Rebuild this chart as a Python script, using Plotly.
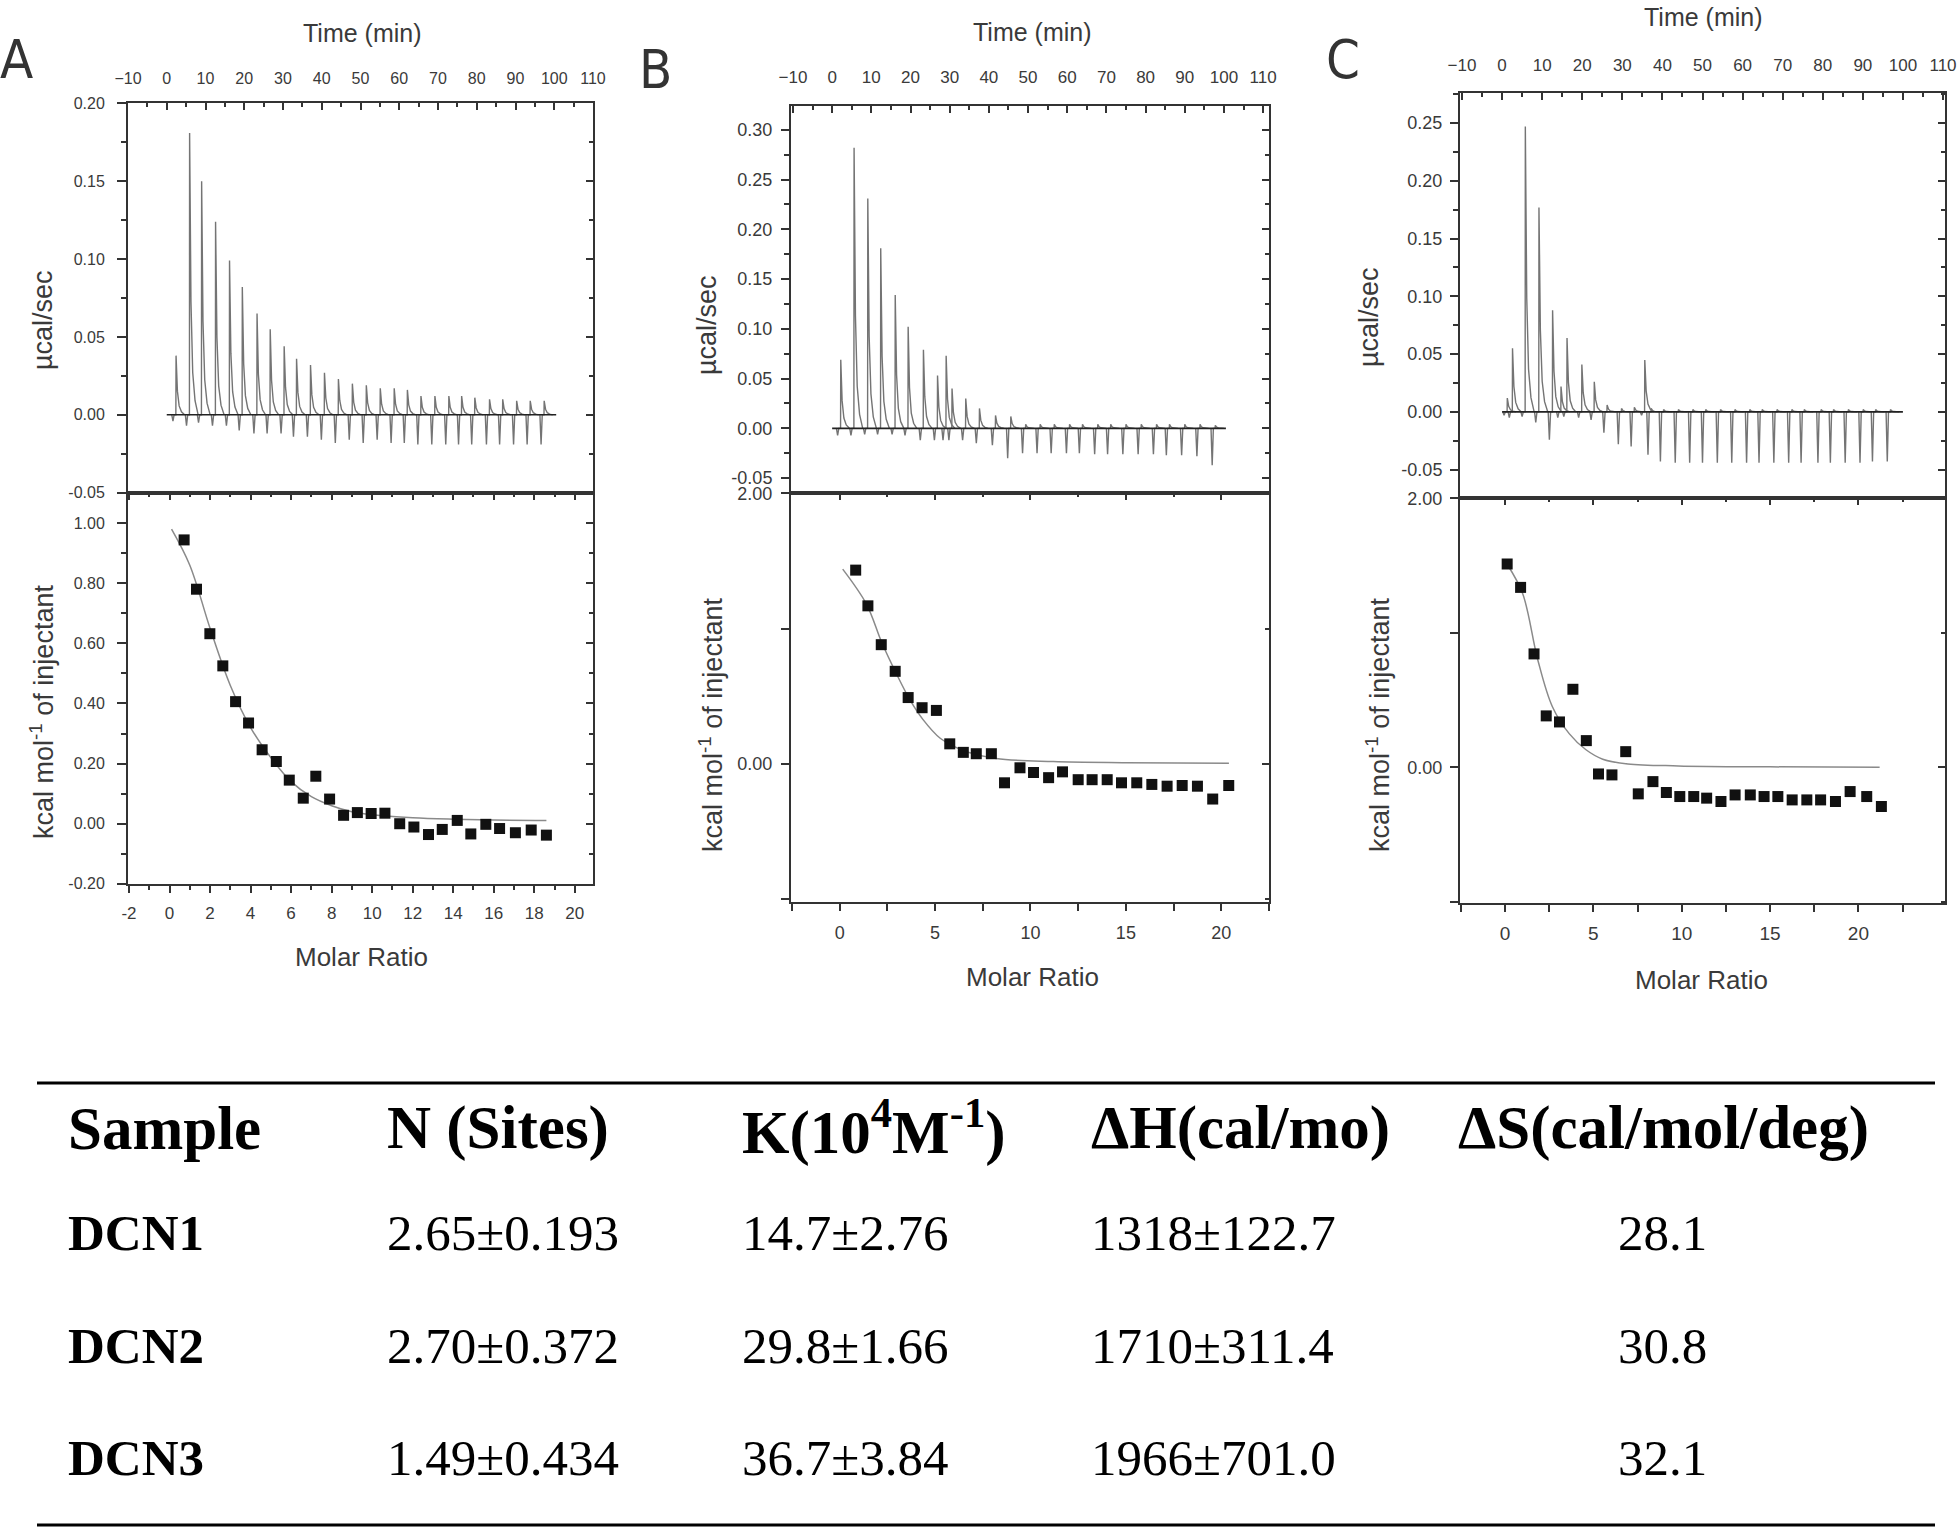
import plotly.graph_objects as go

W, H = 1959, 1532

# ---------------- DATA ----------------
# Panel A – raw thermogram (injection times, peak heights, dip depths)
A_inj_time = [2.4, 5.9, 9.0, 12.6, 16.2, 19.5, 23.3, 26.7, 30.3, 33.5, 37.1, 40.7, 44.3, 47.9,
              51.5, 55.1, 58.7, 62.1, 65.6, 69.2, 72.8, 76.1, 79.5, 83.3, 86.7, 90.3, 93.8, 97.4]
A_peak = [0.038, 0.181, 0.150, 0.124, 0.099, 0.082, 0.065, 0.055, 0.044, 0.036, 0.032, 0.027, 0.023, 0.020,
          0.019, 0.017, 0.017, 0.016, 0.012, 0.012, 0.012, 0.012, 0.011, 0.010, 0.010, 0.009, 0.009, 0.009]
A_dip = [-0.004, -0.007, -0.005, -0.007, -0.007, -0.010, -0.012, -0.012, -0.012, -0.014, -0.014, -0.016, -0.018, -0.016,
         -0.018, -0.016, -0.018, -0.018, -0.019, -0.019, -0.019, -0.019, -0.019, -0.019, -0.019, -0.019, -0.019, -0.019]
A_base_time = [0.0, 100.5]
A_base_val = [0.0, 0.0]

# Panel A – integrated heats
A_molar = [0.72, 1.33, 1.99, 2.63, 3.26, 3.90, 4.57, 5.27, 5.91, 6.60, 7.22, 7.90, 8.59, 9.27,
           9.95, 10.63, 11.36, 12.06, 12.78, 13.46, 14.20, 14.87, 15.61, 16.29, 17.07, 17.85, 18.60]
A_heat = [0.944, 0.780, 0.632, 0.525, 0.406, 0.335, 0.246, 0.207, 0.145, 0.085, 0.158, 0.082, 0.028, 0.037,
          0.034, 0.035, 0.000, -0.011, -0.036, -0.019, 0.011, -0.034, -0.002, -0.016, -0.030, -0.021, -0.038]
A_fit_x = [0.1, 1.0, 2.0, 3.0, 4.0, 5.0, 6.0, 7.0, 8.0, 9.0, 10.0, 12.0, 14.0, 16.0, 18.6]
A_fit_y = [0.98, 0.86, 0.65, 0.46, 0.32, 0.22, 0.14, 0.09, 0.06, 0.04, 0.03, 0.02, 0.015, 0.012, 0.011]

# Panel B – raw thermogram
B_inj_time = [2.2, 5.6, 9.1, 12.4, 16.1, 19.4, 23.3, 26.9, 29.1, 30.6, 34.1, 37.6, 41.7, 45.6,
              49.4, 53.1, 56.7, 60.6, 63.9, 67.8, 71.1, 75.0, 78.9, 82.8, 86.1, 90.0, 93.9, 97.8]
B_peak = [0.069, 0.282, 0.231, 0.181, 0.134, 0.102, 0.079, 0.053, 0.073, 0.040, 0.030, 0.020, 0.013, 0.012,
          0.004, 0.004, 0.004, 0.004, 0.004, 0.004, 0.004, 0.004, 0.004, 0.004, 0.004, 0.004, 0.004, 0.003]
B_dip = [-0.007, -0.007, -0.006, -0.006, -0.006, -0.007, -0.012, -0.012, -0.012, -0.012, -0.012, -0.015, -0.017, -0.030,
         -0.025, -0.025, -0.025, -0.025, -0.025, -0.026, -0.026, -0.026, -0.026, -0.026, -0.027, -0.027, -0.028, -0.037]
B_base_time = [0.0, 100.5]
B_base_val = [0.0, 0.0]

# Panel B – integrated heats
B_molar = [0.84, 1.48, 2.18, 2.91, 3.59, 4.32, 5.07, 5.77, 6.48, 7.16, 7.95, 8.64, 9.45, 10.16,
           10.95, 11.68, 12.50, 13.23, 14.02, 14.77, 15.57, 16.36, 17.16, 17.95, 18.75, 19.55, 20.39]
B_heat = [1.433, 1.169, 0.882, 0.685, 0.491, 0.416, 0.396, 0.149, 0.086, 0.076, 0.076, -0.139, -0.028, -0.063,
          -0.101, -0.058, -0.116, -0.116, -0.116, -0.139, -0.139, -0.151, -0.164, -0.159, -0.164, -0.259, -0.159]
B_fit_x = [0.16, 1.41, 2.2, 3.0, 3.7, 4.36, 5.27, 6.0, 6.64, 8.2, 11.2, 15.0, 20.4]
B_fit_y = [1.44, 1.18, 0.90, 0.66, 0.47, 0.33, 0.19, 0.13, 0.09, 0.04, 0.018, 0.01, 0.005]

# Panel C – raw thermogram
C_inj_time = [1.3, 2.6, 5.8, 9.2, 12.6, 14.7, 16.2, 19.9, 23.0, 26.2, 29.8, 33.0, 35.6, 37.2, 40.3, 44.0,
              47.6, 50.8, 54.5, 58.1, 61.8, 64.9, 68.6, 72.3, 75.4, 79.6, 82.7, 86.4, 90.1, 93.2, 96.9]
C_peak = [0.012, 0.055, 0.247, 0.177, 0.088, 0.022, 0.064, 0.041, 0.026, 0.006, 0.003, 0.004, 0.045, 0.003, 0.002, 0.002,
          0.002, 0.002, 0.002, 0.002, 0.002, 0.002, 0.002, 0.002, 0.002, 0.002, 0.002, 0.002, 0.002, 0.002, 0.002]
C_dip = [-0.003, -0.005, -0.004, -0.009, -0.024, -0.005, -0.004, -0.005, -0.007, -0.018, -0.028, -0.030, -0.003, -0.037, -0.043, -0.044,
         -0.044, -0.044, -0.044, -0.044, -0.044, -0.044, -0.044, -0.044, -0.044, -0.044, -0.044, -0.044, -0.044, -0.043, -0.043]
C_base_time = [0.0, 100.0]
C_base_val = [0.0, 0.0]

# Panel C – integrated heats
C_molar = [0.12, 0.88, 1.64, 2.33, 3.08, 3.84, 4.60, 5.29, 6.05, 6.83, 7.54, 8.37, 9.13, 9.89,
           10.68, 11.41, 12.22, 13.02, 13.88, 14.66, 15.44, 16.25, 17.08, 17.86, 18.70, 19.53, 20.47, 21.30]
C_heat = [1.512, 1.338, 0.843, 0.382, 0.337, 0.580, 0.198, -0.050, -0.057, 0.116, -0.198, -0.107, -0.188, -0.218,
          -0.218, -0.230, -0.255, -0.206, -0.206, -0.218, -0.218, -0.243, -0.243, -0.243, -0.255, -0.181, -0.218, -0.292]
C_fit_x = [0.12, 1.0, 1.85, 2.68, 3.63, 4.58, 5.53, 6.95, 9.8, 15.0, 21.2]
C_fit_y = [1.51, 1.29, 0.80, 0.45, 0.25, 0.13, 0.06, 0.025, 0.01, 0.003, 0.0]

# Table
table_header = ["Sample", "N (Sites)", "K(10<sup>4</sup>M<sup>-1</sup>)", "\u0394H(cal/mo)", "\u0394S(cal/mol/deg)"]
sample_names = ["DCN1", "DCN2", "DCN3"]
n_sites = ["2.65\u00b10.193", "2.70\u00b10.372", "1.49\u00b10.434"]
k_values = ["14.7\u00b12.76", "29.8\u00b11.66", "36.7\u00b13.84"]
dh_values = ["1318\u00b1122.7", "1710\u00b1311.4", "1966\u00b1701.0"]
ds_values = ["28.1", "30.8", "32.1"]

# ---------------- LAYOUT GEOMETRY (pixels) ----------------
def fx(x):
    return x / W


def fy(y):
    return 1 - y / H


SANS = "Liberation Sans, Arial, sans-serif"
SERIF = "Liberation Serif, Times New Roman, serif"
AX = "#333333"
TXT = "#3a3a3a"

panels = [
    dict(key="A", x0=128, x1=593, top=(103, 493), bot=(493, 884),
         ttop=[-10, 110], ytop=[-0.0502, 0.2002], ytop_ticks=[-0.05, 0.0, 0.05, 0.10, 0.15, 0.20], ytop_minor=0.025,
         xbot=[-2.05, 20.9], xbot_ticks=list(range(-2, 21, 2)), xbot_minor=1, xbot_mlen=4,
         ybot=[-0.2005, 1.1], ybot_ticks=[-0.2, 0.0, 0.2, 0.4, 0.6, 0.8, 1.0], ybot_minor=0.1, ybot_mlen=5,
         yfs=16, xtfs=16, xbfs=17, ystand=9, yticklen=9, xtstand=11, xbstand=6,
         inj=(A_inj_time, A_peak, A_dip), base=(A_base_time, A_base_val),
         pts=(A_molar, A_heat), fit=(A_fit_x, A_fit_y)),
    dict(key="B", x0=791, x1=1269, top=(106, 493), bot=(493, 902),
         ttop=[-10.5, 111.5], ytop=[-0.065, 0.324], ytop_ticks=[-0.05, 0.0, 0.05, 0.10, 0.15, 0.20, 0.25, 0.30], ytop_minor=0.025,
         xbot=[-2.55, 22.5], xbot_ticks=[0, 5, 10, 15, 20], xbot_minor=2.5, xbot_mlen=7,
         ybot=[-1.02, 2.003], ybot_ticks=[0, 2], ybot_minor=1, ybot_mlen=8,
         yfs=18, xtfs=17, xbfs=18, ystand=5, yticklen=8, xtstand=14, xbstand=6,
         inj=(B_inj_time, B_peak, B_dip), base=(B_base_time, B_base_val),
         pts=(B_molar, B_heat), fit=(B_fit_x, B_fit_y)),
    dict(key="C", x0=1460, x1=1945, top=(93, 498), bot=(498, 903),
         ttop=[-10.5, 110.5], ytop=[-0.0745, 0.276], ytop_ticks=[-0.05, 0.0, 0.05, 0.10, 0.15, 0.20, 0.25], ytop_minor=0.025,
         xbot=[-2.55, 24.9], xbot_ticks=[0, 5, 10, 15, 20, 25], xbot_minor=2.5, xbot_mlen=7,
         ybot=[-1.01, 2.003], ybot_ticks=[0, 2], ybot_minor=1, ybot_mlen=8,
         yfs=18, xtfs=17, xbfs=19, ystand=4, yticklen=8, xtstand=13, xbstand=5,
         inj=(C_inj_time, C_peak, C_dip), base=(C_base_time, C_base_val),
         pts=(C_molar, C_heat), fit=(C_fit_x, C_fit_y)),
]

fig = go.Figure()
layout = dict(width=W, height=H, margin=dict(l=0, r=0, t=0, b=0, pad=0, autoexpand=False), autosize=False,
              paper_bgcolor="white", plot_bgcolor="white", showlegend=False)


def ax_name(kind, i):
    return f"{kind}axis" if i == 1 else f"{kind}axis{i}"


def ref(kind, i):
    return kind if i == 1 else f"{kind}{i}"


def spikes(times, peaks, dips):
    xs, ys = [], []
    for t, p, d in zip(times, peaks, dips):
        xs += [t - 1.1, t - 0.8, t - 0.5, t - 0.05, t, t + 0.35, t + 0.8, t + 1.4, t + 2.2, None]
        ys += [0.0, d, 0.0, 0.0, p, p * 0.4, p * 0.15, p * 0.05, 0.0, None]
    return xs, ys


def fmt2(v):
    return f"{v:.2f}"


base_axis = dict(showgrid=False, zeroline=False, showline=True, linecolor=AX, linewidth=2,
                 tickcolor=AX, tickwidth=1.5, automargin=False)

for k, p in enumerate(panels):
    it = 2 * k + 1  # top subplot index
    ib = 2 * k + 2  # bottom subplot index
    xd = [fx(p["x0"]), fx(p["x1"])]
    # --- top (raw) subplot ---
    layout[ax_name("x", it)] = dict(base_axis, domain=xd, range=p["ttop"], anchor=ref("y", it), side="top",
                                     mirror=True, ticks="inside", ticklen=7,
                                     tickvals=list(range(-10, 111, 10)),
                                     minor=dict(ticks="inside", ticklen=4, tickvals=list(range(-5, 110, 10)), tickcolor=AX),
                                     tickfont=dict(family=SANS, size=p["xtfs"], color=TXT),
                                     ticklabelstandoff=p["xtstand"])
    layout[ax_name("y", it)] = dict(base_axis, domain=[fy(p["top"][1]), fy(p["top"][0])], range=p["ytop"],
                                     anchor=ref("x", it), mirror=True, ticks="outside", ticklen=p["yticklen"],
                                     tickvals=p["ytop_ticks"], ticktext=[fmt2(v) for v in p["ytop_ticks"]],
                                     minor=dict(ticks="outside", ticklen=5, dtick=p["ytop_minor"], tick0=0.025, tickcolor=AX),
                                     tickfont=dict(family=SANS, size=p["yfs"], color=TXT), ticklabelstandoff=p["ystand"])
    # --- bottom (integrated) subplot ---
    layout[ax_name("x", ib)] = dict(base_axis, domain=xd, range=p["xbot"], anchor=ref("y", ib), side="bottom",
                                     mirror=True, ticks="outside", ticklen=7, tickvals=p["xbot_ticks"],
                                     ticktext=[str(v) for v in p["xbot_ticks"]],
                                     minor=dict(ticks="outside", ticklen=p["xbot_mlen"], dtick=p["xbot_minor"], tick0=0, tickcolor=AX),
                                     tickfont=dict(family=SANS, size=p["xbfs"], color=TXT),
                                     ticklabelstandoff=p["xbstand"])
    layout[ax_name("y", ib)] = dict(base_axis, domain=[fy(p["bot"][1]), fy(p["bot"][0])], range=p["ybot"],
                                     anchor=ref("x", ib), mirror=True, ticks="outside", ticklen=p["yticklen"],
                                     tickvals=p["ybot_ticks"], ticktext=[fmt2(v) for v in p["ybot_ticks"]],
                                     minor=dict(ticks="outside", ticklen=p["ybot_mlen"], dtick=p["ybot_minor"], tick0=0, tickcolor=AX),
                                     tickfont=dict(family=SANS, size=p["yfs"], color=TXT), ticklabelstandoff=p["ystand"])

    # --- inside mirror ticks on right side (overlay y axes) ---
    for i_main, yr, tv, mn in [(it, p["ytop"], p["ytop_ticks"], p["ytop_minor"]),
                               (ib, p["ybot"], p["ybot_ticks"], p["ybot_minor"])]:
        io = i_main + 6
        layout[ax_name("y", io)] = dict(showgrid=False, zeroline=False, showline=False, overlaying=ref("y", i_main),
                                        anchor=ref("x", i_main), side="right", range=yr, ticks="inside", ticklen=7,
                                        tickcolor=AX, tickwidth=1.5, tickvals=tv, showticklabels=False, automargin=False,
                                        minor=dict(ticks="inside", ticklen=4, dtick=mn, tick0=0, tickcolor=AX))
        fig.add_trace(go.Scatter(x=[None], y=[None], xaxis=ref("x", i_main), yaxis=ref("y", io),
                                 showlegend=False, hoverinfo="skip"))
    # --- inside ticks on the top edge of bottom subplot ---
    ixo = ib + 6
    layout[ax_name("x", ixo)] = dict(showgrid=False, zeroline=False, showline=False, overlaying=ref("x", ib),
                                     anchor=ref("y", ib), side="top", range=p["xbot"], ticks="inside", ticklen=7,
                                     tickcolor=AX, tickwidth=1.5, tickvals=p["xbot_ticks"], showticklabels=False,
                                     automargin=False,
                                     minor=dict(ticks="inside", ticklen=4, dtick=p["xbot_minor"], tick0=0, tickcolor=AX))
    fig.add_trace(go.Scatter(x=[None], y=[None], xaxis=ref("x", ixo), yaxis=ref("y", ib),
                             showlegend=False, hoverinfo="skip"))

    # --- traces ---
    sx, sy = spikes(*p["inj"])
    fig.add_trace(go.Scatter(x=sx, y=sy, mode="lines", line=dict(color="#747474", width=1.4),
                             xaxis=ref("x", it), yaxis=ref("y", it), connectgaps=False, hoverinfo="skip"))
    fig.add_trace(go.Scatter(x=p["base"][0], y=p["base"][1], mode="lines", line=dict(color="#222222", width=1.6),
                             xaxis=ref("x", it), yaxis=ref("y", it), hoverinfo="skip"))
    fig.add_trace(go.Scatter(x=p["fit"][0], y=p["fit"][1], mode="lines", line=dict(color="#8a8a8a", width=1.5, shape="spline"),
                             xaxis=ref("x", ib), yaxis=ref("y", ib), hoverinfo="skip"))
    fig.add_trace(go.Scatter(x=p["pts"][0], y=p["pts"][1], mode="markers",
                             marker=dict(symbol="square", size=11, color="#111111"),
                             xaxis=ref("x", ib), yaxis=ref("y", ib)))

# ---------------- TEXT ANNOTATIONS ----------------
ann = []


def text(x, y, s, size, family=SANS, color=TXT, angle=0, xanchor="center", yanchor="middle", bold=False):
    if bold:
        s = f"<b>{s}</b>"
    ann.append(dict(x=fx(x), y=fy(y), xref="paper", yref="paper", text=s, showarrow=False,
                    font=dict(family=family, size=size, color=color), textangle=angle,
                    xanchor=xanchor, yanchor=yanchor))


titles = [
    # (time_x, time_y, ytop_x, ytop_y, ybot_x, ybot_y, molar_x, molar_y, letter, letter_x, letter_y)
    (362, 33, 43, 320, 42, 712, 361, 957, "A", 16, 60),
    (1032, 32, 707, 325, 711, 725, 1032, 977, "B", 655, 70),
    (1703, 17, 1369, 317, 1378, 725, 1701, 980, "C", 1343, 60),
]
for (tx, ty, ux, uy, kx, ky, mx, my, L, lx, ly) in titles:
    text(tx, ty, "Time (min)", 25)
    text(ux, uy, "\u00b5cal/sec", 27, angle=-90)
    text(kx, ky, "kcal mol<sup>-1</sup> of injectant", 27, angle=-90)
    text(mx, my, "Molar Ratio", 26)
    text(lx, ly, L, 54, family="DejaVu Sans Condensed, Liberation Sans Narrow, Liberation Sans, sans-serif",
         color="#333333")

# table
col_x = [66, 385, 740, 1089, 1456]
row_y = [1233, 1346, 1458]
header_y = 1128
for cx, h in zip(col_x, table_header):
    text(cx, header_y, h, 61, family=SERIF, color="#000000", xanchor="left", bold=True)
for r, ry in enumerate(row_y):
    text(col_x[0], ry, sample_names[r], 51, family=SERIF, color="#000000", xanchor="left", bold=True)
    text(col_x[1], ry, n_sites[r], 51, family=SERIF, color="#000000", xanchor="left")
    text(col_x[2], ry, k_values[r], 51, family=SERIF, color="#000000", xanchor="left")
    text(col_x[3], ry, dh_values[r], 51, family=SERIF, color="#000000", xanchor="left")
    text(1662, ry, ds_values[r], 51, family=SERIF, color="#000000", xanchor="center")

layout["annotations"] = ann
layout["shapes"] = [
    dict(type="line", xref="paper", yref="paper", x0=fx(37), x1=fx(1935), y0=fy(1083), y1=fy(1083),
         line=dict(color="#000000", width=3)),
    dict(type="line", xref="paper", yref="paper", x0=fx(37), x1=fx(1935), y0=fy(1525), y1=fy(1525),
         line=dict(color="#000000", width=3)),
]

fig.update_layout(**layout)
fig.write_html("out.html", config={"displayModeBar": False},
               post_script="document.body.style.margin='0px';document.body.style.overflow='hidden';")
